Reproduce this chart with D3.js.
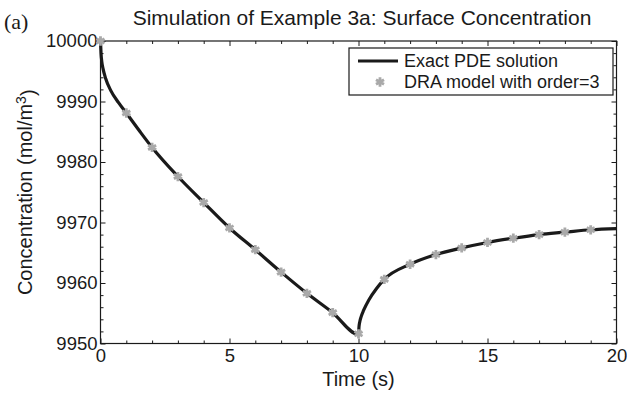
<!DOCTYPE html>
<html lang="en">
<head>
  <meta charset="UTF-8">
  <title>Simulation of Example 3a: Surface Concentration</title>
  <script src="https://d3js.org/d3.v7.min.js"></script>
  <style>
    body { margin: 0; background: #fff; }
    svg text { font-family: "Liberation Sans", Arial, sans-serif; fill: #1a1a1a; }
    .axis path, .axis line { stroke: #1a1a1a; }
  </style>
</head>
<body>
  <svg id="chart" width="627" height="396"></svg>

  <script>
    // DRA model (order=3) markers, one per second
    const draTime = [0, 1, 2, 3, 4, 5, 6, 7, 8, 9, 10, 11, 12, 13, 14, 15, 16, 17, 18, 19];
    const draConc = [10000, 9988.1, 9982.4, 9977.6, 9973.3, 9969.1, 9965.5, 9961.8, 9958.3, 9955.1,
                     9951.6, 9960.6, 9963.1, 9964.7, 9965.8, 9966.7, 9967.4, 9968.0, 9968.4, 9968.8];

    // exact PDE solution (denser near the kinks)
    const exactTime = [0, 0.02, 0.05, 0.1, 0.2, 0.4, 0.7, 1, 1.5, 2, 3, 4, 5, 6, 7, 8, 9, 10,
                       10.02, 10.05, 10.1, 10.2, 10.4, 10.7, 11, 12, 13, 14, 15, 16, 17, 18, 19, 20];
    const exactConc = [10000, 9998.0, 9996.6, 9995.4, 9993.8, 9991.8, 9989.8, 9988.1, 9985.2, 9982.4,
                       9977.6, 9973.3, 9969.1, 9965.5, 9961.8, 9958.3, 9955.1, 9951.5,
                       9952.8, 9953.6, 9954.4, 9955.5, 9957.2, 9959.1, 9960.6, 9963.1, 9964.7,
                       9965.8, 9966.7, 9967.4, 9968.0, 9968.4, 9968.8, 9969.0];

    const xTicks = [0, 5, 10, 15, 20];
    const yTicks = [9950, 9960, 9970, 9980, 9990, 10000];
    const legendLabels = ["Exact PDE solution", "DRA model with order=3"];

    const width = 627, height = 396;
    const margin = { top: 41, right: 10.5, bottom: 52.5, left: 100.5 };
    const svg = d3.select("#chart");

    const x = d3.scaleLinear().domain([0, 20]).range([margin.left, width - margin.right]);
    const y = d3.scaleLinear().domain([9950, 10000]).range([height - margin.bottom, margin.top]);

    const ink = "#1a1a1a";
    const grey = "#a9a9a9";

    // minor ticks first, then major ticks with labels (inward, all four sides)
    const xMinor = d3.range(0, 21, 1).filter(v => v % 5 !== 0);
    const yMinor = d3.range(9950, 10001, 2).filter(v => v % 10 !== 0);

    function addAxis(axis, tx, ty, cls) {
      const g = svg.append("g").attr("class", "axis " + cls)
        .attr("transform", `translate(${tx},${ty})`).call(axis);
      g.select(".domain").remove();
      g.selectAll("line").attr("stroke-width", 1);
      return g;
    }

    const bottomY = height - margin.bottom, rightX = width - margin.right;

    addAxis(d3.axisBottom(x).tickValues(xMinor).tickSize(-3).tickFormat(""), 0, bottomY, "minor");
    addAxis(d3.axisTop(x).tickValues(xMinor).tickSize(-3).tickFormat(""), 0, margin.top, "minor");
    addAxis(d3.axisLeft(y).tickValues(yMinor).tickSize(-3).tickFormat(""), margin.left, 0, "minor");
    addAxis(d3.axisRight(y).tickValues(yMinor).tickSize(-3).tickFormat(""), rightX, 0, "minor");

    const xb = addAxis(d3.axisBottom(x).tickValues(xTicks).tickSize(-5).tickPadding(5).tickFormat(d3.format("d")), 0, bottomY, "major");
    addAxis(d3.axisTop(x).tickValues(xTicks).tickSize(-5).tickFormat(""), 0, margin.top, "major");
    const yl = addAxis(d3.axisLeft(y).tickValues(yTicks).tickSize(-5).tickPadding(3).tickFormat(d3.format("d")), margin.left, 0, "major");
    addAxis(d3.axisRight(y).tickValues(yTicks).tickSize(-5).tickFormat(""), rightX, 0, "major");

    xb.selectAll("text").style("font-size", "18.5px").attr("fill", ink);
    yl.selectAll("text").style("font-size", "18.5px").attr("fill", ink);

    // plot box
    svg.append("rect")
      .attr("x", margin.left).attr("y", margin.top)
      .attr("width", rightX - margin.left).attr("height", bottomY - margin.top)
      .attr("fill", "none").attr("stroke", ink).attr("stroke-width", 1.2);

    // exact solution line
    const line = d3.line()
      .x((d, i) => x(exactTime[i]))
      .y(d => y(d))
      .curve(d3.curveMonotoneX);

    svg.append("path")
      .datum(exactConc)
      .attr("d", line)
      .attr("fill", "none")
      .attr("stroke", ink)
      .attr("stroke-width", 3.2);

    // DRA markers
    const star = d3.symbol().type(d3.symbolAsterisk).size(60);
    svg.append("g")
      .selectAll("path")
      .data(draConc)
      .enter().append("path")
      .attr("d", star)
      .attr("transform", (d, i) => `translate(${x(draTime[i])},${y(d)})`)
      .attr("fill", "none")
      .attr("stroke", grey)
      .attr("stroke-width", 2.8);

    // legend
    const lg = svg.append("g").attr("transform", "translate(349,48)");
    lg.append("rect")
      .attr("width", 264).attr("height", 47)
      .attr("fill", "#fff").attr("stroke", ink).attr("stroke-width", 1.2);
    lg.append("line")
      .attr("x1", 9).attr("x2", 49).attr("y1", 13).attr("y2", 13)
      .attr("stroke", ink).attr("stroke-width", 3.2);
    lg.append("path")
      .attr("d", star)
      .attr("transform", "translate(31,34)")
      .attr("fill", "none").attr("stroke", grey).attr("stroke-width", 2.8);
    lg.selectAll("text.lab")
      .data(legendLabels)
      .enter().append("text")
      .attr("class", "lab")
      .attr("x", 55)
      .attr("y", (d, i) => 13 + i * 21)
      .attr("dy", "0.35em")
      .style("font-size", "18px")
      .text(d => d);

    // titles
    svg.append("text")
      .attr("x", 362)
      .attr("y", 25)
      .attr("text-anchor", "middle")
      .style("font-size", "21px")
      .text("Simulation of Example 3a: Surface Concentration");

    svg.append("text")
      .attr("x", 4).attr("y", 29)
      .style("font-family", "'Liberation Serif', 'Times New Roman', serif")
      .style("font-size", "22px")
      .text("(a)");

    svg.append("text")
      .attr("x", (margin.left + rightX) / 2)
      .attr("y", 386)
      .attr("text-anchor", "middle")
      .style("font-size", "20px")
      .text("Time (s)");

    const yLab = svg.append("text")
      .attr("transform", `translate(32,${(margin.top + bottomY) / 2}) rotate(-90)`)
      .attr("text-anchor", "middle")
      .style("font-size", "20px");
    yLab.append("tspan").text("Concentration (mol/m");
    yLab.append("tspan").attr("dy", "-0.45em").style("font-size", "14px").text("3");
    yLab.append("tspan").attr("dy", "0.45em").text(")");
  </script>
</body>
</html>
